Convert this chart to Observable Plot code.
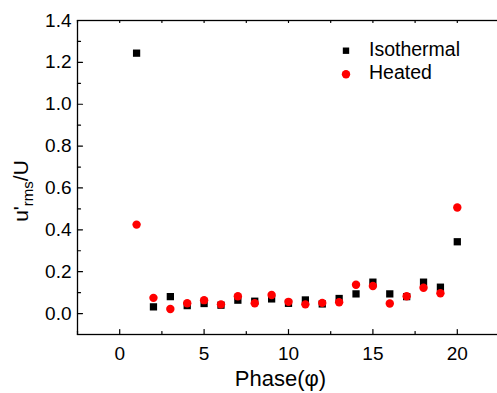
<!DOCTYPE html>
<html>
<head>
<meta charset="utf-8">
<script src="https://cdn.jsdelivr.net/npm/d3@7"></script>
<script src="https://cdn.jsdelivr.net/npm/@observablehq/plot@0.6"></script>
<style>
  html, body { margin: 0; padding: 0; background: #fff; }
  #chart svg { display: block; }
</style>
</head>
<body>
<div id="chart"></div>
<script>
const phase = [1, 2, 3, 4, 5, 6, 7, 8, 9, 10, 11, 12, 13, 14, 15, 16, 17, 18, 19, 20];
const isothermal = [1.244, 0.032, 0.081, 0.038, 0.048, 0.040, 0.064, 0.059, 0.070, 0.049, 0.065, 0.046, 0.072, 0.094, 0.150, 0.094, 0.081, 0.150, 0.126, 0.343];
const heated = [0.425, 0.075, 0.022, 0.049, 0.064, 0.044, 0.083, 0.049, 0.089, 0.056, 0.044, 0.051, 0.054, 0.138, 0.132, 0.048, 0.083, 0.123, 0.097, 0.507];
const seriesNames = ["Isothermal", "Heated"];
const xTicks = [0, 5, 10, 15, 20];
const xMinorTicks = [-2.5, 2.5, 7.5, 12.5, 17.5, 22.5];
const yTicks = [0.0, 0.2, 0.4, 0.6, 0.8, 1.0, 1.2, 1.4];
const yMinorTicks = [-0.1, 0.1, 0.3, 0.5, 0.7, 0.9, 1.1, 1.3];

const isoData = phase.map((p, i) => ({phase: p, value: isothermal[i]}));
const heatData = phase.map((p, i) => ({phase: p, value: heated[i]}));

const font = "'Liberation Sans', Arial, sans-serif";

// straight line shape for tick vectors
const tickShape = {draw(context, l) { context.moveTo(0, 0); context.lineTo(0, -l); }};
const tickOpts = {shape: tickShape, anchor: "start", stroke: "#000", strokeWidth: 1.2};

const plot = Plot.plot({
  width: 497,
  height: 393,
  marginLeft: 77,
  marginRight: -2,
  marginTop: 20,
  marginBottom: 59,
  style: {fontFamily: font, color: "#000", background: "#fff", overflow: "hidden"},
  x: {domain: [-2.5, 22.5]},
  y: {domain: [-0.1, 1.4]},
  marks: [
    // inward ticks: bottom
    Plot.vector(xTicks, {x: d => d, frameAnchor: "bottom", length: 5, rotate: 0, ...tickOpts}),
    Plot.vector(xMinorTicks, {x: d => d, frameAnchor: "bottom", length: 3, rotate: 0, ...tickOpts}),
    // inward ticks: top
    Plot.vector(xTicks.concat(xMinorTicks), {x: d => d, frameAnchor: "top", length: 2, rotate: 180, ...tickOpts}),
    // inward ticks: left
    Plot.vector(yTicks, {y: d => d, frameAnchor: "left", length: 5, rotate: 90, ...tickOpts}),
    Plot.vector(yMinorTicks, {y: d => d, frameAnchor: "left", length: 3, rotate: 90, ...tickOpts}),
    Plot.frame({stroke: "#000", strokeWidth: 1.3}),
    Plot.axisX({anchor: "bottom", ticks: xTicks, tickSize: 0, tickPadding: 12, fontSize: 19, label: null, tickFormat: d3.format("d")}),
    Plot.axisY({anchor: "left", ticks: yTicks, tickSize: 0, tickPadding: 6, fontSize: 19, label: null, tickFormat: d3.format(".1f")}),
    Plot.dot(isoData, {x: "phase", y: "value", symbol: "square", r: 4.1, fill: "#000", stroke: "none"}),
    Plot.dot(heatData, {x: "phase", y: "value", symbol: "circle", r: 4.2, fill: "#ff0000", stroke: "none"})
  ]
});

const svg = d3.select(plot);

// Axis titles
svg.append("text")
  .attr("x", 280.5).attr("y", 386)
  .attr("text-anchor", "middle")
  .attr("font-family", font).attr("font-size", 22).attr("fill", "#000")
  .text("Phase(\u03c6)");

const yt = svg.append("text")
  .attr("transform", "translate(28,191) rotate(-90)")
  .attr("text-anchor", "middle")
  .attr("font-family", font).attr("font-size", 21).attr("fill", "#000");
yt.append("tspan").text("u'");
yt.append("tspan").attr("font-size", 15).attr("dy", 5).text("rms");
yt.append("tspan").attr("dy", -5).text("/U");

// Legend
const lg = svg.append("g").attr("text-anchor", "start");
lg.append("path")
  .attr("d", d3.symbol(d3.symbolSquare, Math.PI * 3.6 * 3.6)())
  .attr("transform", "translate(346,50.7)").attr("fill", "#000");
lg.append("circle").attr("cx", 346).attr("cy", 74.3).attr("r", 4.2).attr("fill", "#ff0000");
lg.append("text").attr("x", 369).attr("y", 55.7).attr("text-anchor", "start")
  .attr("font-family", font).attr("font-size", 19.5).attr("fill", "#000").text(seriesNames[0]);
lg.append("text").attr("x", 369).attr("y", 79.3).attr("text-anchor", "start")
  .attr("font-family", font).attr("font-size", 19.5).attr("fill", "#000").text(seriesNames[1]);

document.getElementById("chart").appendChild(plot);
</script>
</body>
</html>
